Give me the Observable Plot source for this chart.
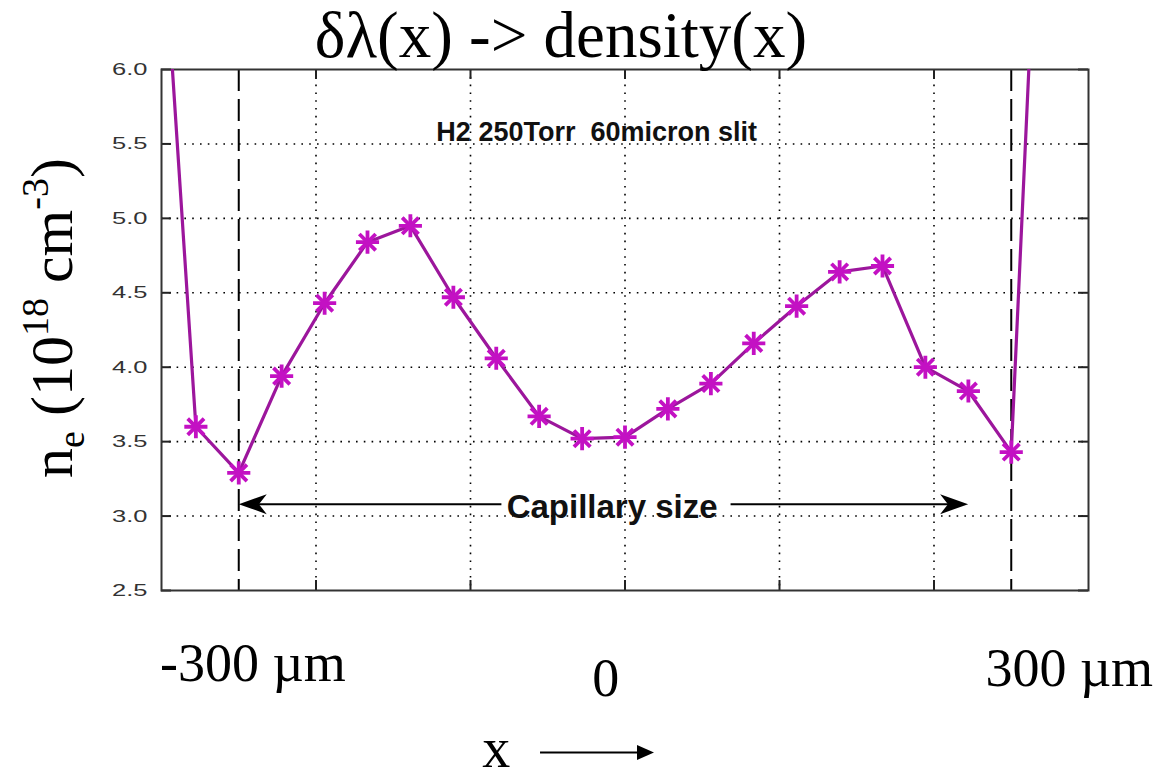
<!DOCTYPE html>
<html><head><meta charset="utf-8">
<script src="https://cdn.jsdelivr.net/npm/d3@7"></script>
<script src="https://cdn.jsdelivr.net/npm/@observablehq/plot@0.6"></script>
<style>body{margin:0;background:#fff;overflow:hidden}</style>
</head><body><div id="chart"></div>
<script>
// position across the capillary (µm) and measured electron density (10^18 cm^-3)
const xPos = [-366.7, -333.3, -300, -266.7, -233.3, -200, -166.7, -133.3, -100, -66.7, -33.3, 0, 33.3, 66.7, 100, 133.3, 166.7, 200, 233.3, 266.7, 300, 333.3];
const density = [8.0, 3.60, 3.29, 3.94, 4.43, 4.84, 4.95, 4.47, 4.06, 3.67, 3.52, 3.53, 3.72, 3.89, 4.16, 4.41, 4.64, 4.68, 4.00, 3.84, 3.43, 9.7];
const yTicks = [2.5, 3.0, 3.5, 4.0, 4.5, 5.0, 5.5, 6.0];
const yGrid = [3.0, 3.5, 4.0, 4.5, 5.0, 5.5];
const xGrid = [-240, -120, 0, 120, 240];
const capEdges = [-300, 300];
const bottomLabels = ["-300\u00a0µm", "0", "300\u00a0µm"];
const bottomLabelX = [-289, -15, 345];
const titleText = "δλ(x) -> density(x)";
const noteText = "H2\u00a0250Torr\u00a0\u00a060micron slit";
const capText = "Capillary size";

const data = xPos.map((x, i) => ({x, y: density[i]}));
const W = 1173, H = 780, mL = 161, mR = 85, mT = 69, mB = 190;
const pw = W - mL - mR, ph = H - mT - mB;

const dart = (L, Wd, notch) => ({
  draw(ctx, size) {
    const r = Math.sqrt(size / Math.PI);
    const l = L * r, w = Wd * r;
    ctx.moveTo(0, 0); ctx.lineTo(-l, -w / 2); ctx.lineTo(-l * notch, 0); ctx.lineTo(-l, w / 2); ctx.closePath();
  }
});
const capHead = dart(28, 20, 0.72);
const xHead = dart(17, 15, 1);

const serif = "'Liberation Serif', 'Times New Roman', serif";
const sans = "'Liberation Sans', Arial, sans-serif";
const purple = "#9c169c", marker = "#c311c3";

const chart = Plot.plot({
  width: W, height: H,
  marginLeft: mL, marginRight: mR, marginTop: mT, marginBottom: mB,
  style: {fontFamily: sans, background: "#fff"},
  x: {domain: [-360, 360], axis: null},
  y: {domain: [2.5, 6.0]},
  marks: [
    Plot.ruleY(yGrid, {stroke: "#000", strokeWidth: 1.6, strokeDasharray: "1.6,6.2"}),
    Plot.ruleX(xGrid, {stroke: "#000", strokeWidth: 1.6, strokeDasharray: "1.6,6.2"}),
    Plot.ruleX(capEdges, {stroke: "#000", strokeWidth: 2, strokeDasharray: "22,8"}),
    Plot.ruleY(yTicks, {stroke: "#222", strokeWidth: 2, insetRight: pw - 10}),
    Plot.ruleY(yTicks, {stroke: "#222", strokeWidth: 2, insetLeft: pw - 10}),
    Plot.ruleX(xGrid, {stroke: "#222", strokeWidth: 2, insetTop: ph - 10}),
    Plot.ruleX(xGrid, {stroke: "#222", strokeWidth: 2, insetBottom: ph - 10}),
    Plot.frame({stroke: "#333", strokeWidth: 2}),
    Plot.axisY(yTicks, {tickSize: 0, tickPadding: 14, tickFormat: ".1f", fontSize: 17, fill: "#333", label: null}),
    Plot.line(data, {x: "x", y: "y", stroke: purple, strokeWidth: 3.2, clip: true}),
    Plot.dot(data.slice(1, -1), {x: "x", y: "y", symbol: "plus", r: 7.5, stroke: marker, strokeWidth: 3.8, clip: true}),
    Plot.dot(data.slice(1, -1), {x: "x", y: "y", symbol: "times", r: 7.5, stroke: marker, strokeWidth: 3.8, clip: true}),
    // capillary size arrow
    Plot.link([0], {x1: -96, x2: -296, y1: 3.08, y2: 3.08, stroke: "#000", strokeWidth: 2}),
    Plot.link([0], {x1: 82, x2: 262, y1: 3.08, y2: 3.08, stroke: "#000", strokeWidth: 2}),
    Plot.dot([0], {x: -300, y: 3.08, symbol: capHead, r: 1, fill: "#000", rotate: 180}),
    Plot.dot([0], {x: 266.5, y: 3.08, symbol: capHead, r: 1, fill: "#000"}),
    Plot.text([capText], {text: d => d, x: -10, y: 3.08, fontSize: 33, fontWeight: "bold", fill: "#111", lineAnchor: "middle", dy: 3}),
    Plot.text([noteText], {text: d => d, x: -22, y: 5.58, fontSize: 27, fontWeight: "bold", fill: "#111", lineAnchor: "middle"}),
    // title & labels
    Plot.text([titleText], {text: d => d, frameAnchor: "top", dx: -64, dy: -13, lineAnchor: "bottom", fontSize: 65, fontFamily: serif, fill: "#000"}),
    Plot.text(["n"], {text: d => d, frameAnchor: "left", textAnchor: "middle", dx: -90, dy: -12, rotate: -90, lineAnchor: "bottom", fontSize: 60, fontFamily: serif, fill: "#000", ariaLabel: () => "ylabel"}),
    Plot.text(bottomLabels, {text: d => d, x: (d, i) => bottomLabelX[i], frameAnchor: "bottom", lineAnchor: "bottom", fontSize: 54, fontFamily: serif, fill: "#000", ariaLabel: () => "xlabels"}),
    Plot.text(["x"], {text: d => d, x: -100, frameAnchor: "bottom", dy: 176, lineAnchor: "bottom", fontSize: 56, fontFamily: serif, fill: "#000"}),
    Plot.link([0], {x1: -66, x2: 15, y1: 1.412, y2: 1.412, stroke: "#000", strokeWidth: 2}),
    Plot.dot([0], {x: 22.5, y: 1.412, symbol: xHead, r: 1, fill: "#000"})
  ]
});

const svg = d3.select(chart);
const textsOf = (label) => {
  const out = [];
  svg.selectAll(`[aria-label="${label}"]`).each(function() {
    if (this.tagName.toLowerCase() === "text") out.push(this);
    else this.querySelectorAll("text").forEach(t => out.push(t));
  });
  return out;
};
// stretch y tick labels horizontally like the original
textsOf("y-axis tick label").forEach(t => {
  t.setAttribute("transform", (t.getAttribute("transform") || "") + " scale(1.5,1)");
});
// bottom labels baseline offsets
const dys = [90, 105, 95];
textsOf("xlabels").forEach((t, i) => {
  t.setAttribute("transform", (t.getAttribute("transform") || "") + ` translate(0,${dys[i]})`);
});
// y label with sub/superscripts
textsOf("ylabel").forEach(t => {
  const yl = d3.select(t);
  yl.text(null).attr("text-anchor", "middle");
  const parts = [["n", 60, 0], ["e", 38, 12], ["\u00a0(10", 60, -12], ["18", 38, -24], ["\u00a0cm", 60, 24], ["-3", 38, -24], [")", 60, 24]];
  for (const [s, fs, dy] of parts) yl.append("tspan").attr("font-size", fs).attr("dy", dy).text(s);
});

document.getElementById("chart").append(chart);
</script>
</body></html>
